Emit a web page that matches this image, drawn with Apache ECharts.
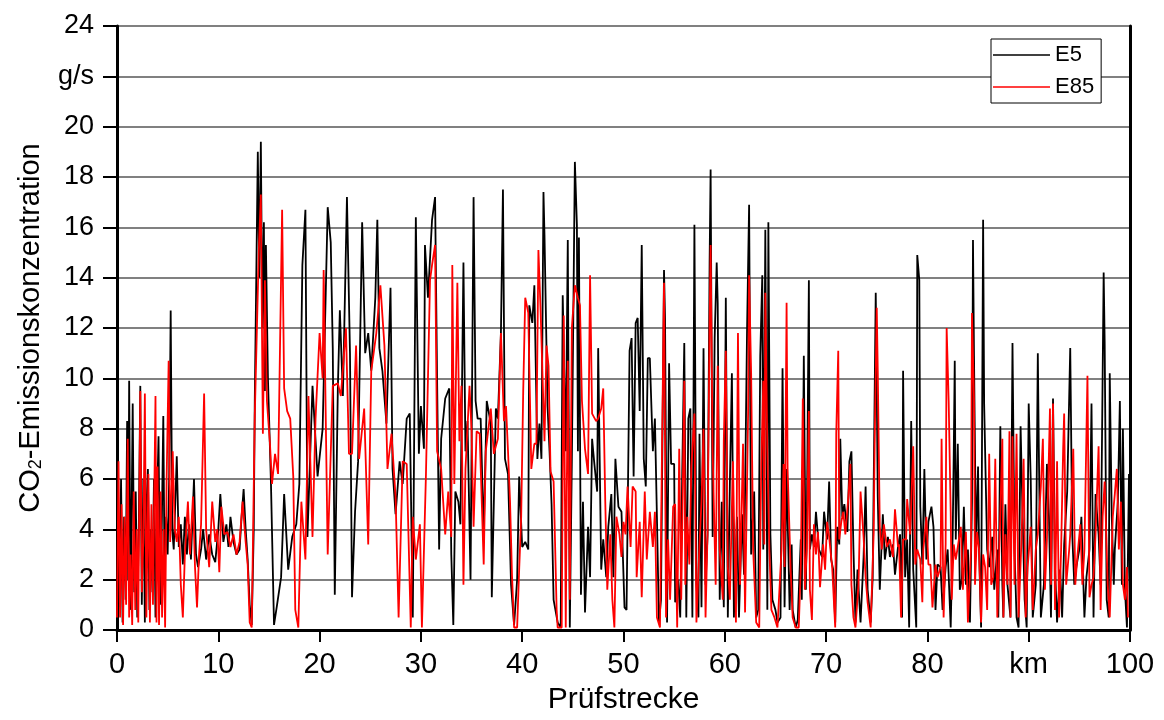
<!DOCTYPE html>
<html>
<head>
<meta charset="utf-8">
<script src="https://cdn.jsdelivr.net/npm/echarts@6/dist/echarts.min.js"></script>
<style>
html,body{margin:0;padding:0;background:#fff;}
#chart{width:1164px;height:720px;}
</style>
</head>
<body>
<div id="chart"></div>
<script>
const xTickLabels = ['0','10','20','30','40','50','60','70','80','km','100'];
const yTickLabels = ['0','2','4','6','8','10','12','14','16','18','20','g/s','24'];
const seriesNames = ['E5','E85'];

const e5Km = [0,0.1,0.25,0.4,0.55,0.7,0.85,1.0,1.1,1.2,1.35,1.55,1.7,1.85,2.0,2.15,2.3,2.45,2.6,2.75,2.9,3.05,3.2,3.35,3.5,3.65,3.8,3.95,4.1,4.25,4.4,4.57,4.7,4.85,5.0,5.15,5.3,5.45,5.6,5.75,5.9,6.1,6.3,6.5,6.7,6.9,7.1,7.3,7.6,7.8,8.0,8.3,8.5,8.8,9.1,9.4,9.7,10.0,10.2,10.5,10.8,11.0,11.2,11.5,11.8,12.1,12.3,12.5,12.7,12.9,13.1,13.3,13.5,13.6,13.9,14.05,14.2,14.35,14.5,14.6,14.7,14.9,15.2,15.5,15.8,16.2,16.5,16.9,17.3,17.7,18.0,18.3,18.6,18.8,19.3,19.8,20.3,20.8,21.1,21.3,21.5,21.8,22.0,22.3,22.7,23.0,23.2,23.5,23.8,24.2,24.5,24.8,25.1,25.5,25.7,25.9,26.2,26.6,27.0,27.2,27.5,27.9,28.2,28.6,28.9,29.2,29.5,29.8,30.0,30.3,30.4,30.7,31.1,31.4,31.6,31.8,32.0,32.4,32.8,33.0,33.2,33.4,33.7,33.9,34.2,34.4,34.6,34.9,35.2,35.4,35.6,35.9,36.2,36.5,36.9,37.0,37.4,37.6,37.9,38.1,38.3,38.6,38.9,39.2,39.5,39.7,40.0,40.3,40.6,40.7,41.0,41.2,41.5,41.7,41.9,42.1,42.2,42.5,42.7,42.9,43.1,43.5,43.8,44.0,44.3,44.5,44.7,44.9,45.2,45.4,45.5,45.6,45.8,46.0,46.2,46.5,46.7,46.9,47.1,47.4,47.5,47.8,48.0,48.3,48.5,48.8,49.0,49.2,49.5,49.8,50.1,50.3,50.6,50.8,51.0,51.2,51.4,51.6,51.8,52.0,52.2,52.4,52.6,52.9,53.1,53.3,53.5,53.7,54.0,54.1,54.3,54.5,54.7,55.0,55.1,55.4,55.6,55.8,56.0,56.2,56.4,56.6,56.8,57.0,57.2,57.4,57.5,57.7,57.9,58.1,58.3,58.5,58.6,58.8,59.0,59.2,59.3,59.5,59.7,59.9,60.1,60.3,60.5,60.7,60.9,61.2,61.4,61.7,61.9,62.2,62.4,62.6,62.9,63.1,63.3,63.5,63.7,63.8,64.0,64.2,64.3,64.5,64.7,65.0,65.2,65.5,65.7,65.9,66.1,66.4,66.6,66.7,67.0,67.2,67.5,67.6,67.8,68.0,68.1,68.3,68.4,68.6,68.8,69.0,69.3,69.6,69.8,70.1,70.3,70.5,70.7,70.9,71.1,71.3,71.4,71.6,71.8,72.1,72.3,72.5,72.7,72.9,73.1,73.4,73.7,73.9,74.1,74.4,74.6,74.9,75.0,75.1,75.3,75.6,75.8,76.1,76.3,76.6,76.8,77.1,77.3,77.5,77.6,77.8,78.0,78.2,78.4,78.6,78.9,79.0,79.2,79.3,79.5,79.7,79.9,80.1,80.4,80.6,80.8,81.0,81.3,81.5,81.8,82.0,82.3,82.5,82.6,82.7,82.8,83.0,83.2,83.4,83.6,83.8,84.0,84.2,84.4,84.5,84.6,84.8,85.0,85.1,85.3,85.5,85.6,85.9,86.1,86.4,86.6,86.9,87.0,87.2,87.4,87.5,87.7,87.9,88.2,88.4,88.6,88.8,89.0,89.2,89.4,89.6,89.8,90.0,90.2,90.4,90.7,90.9,91.0,91.2,91.5,91.8,92.0,92.2,92.4,92.6,92.8,93.1,93.3,93.5,93.8,94.1,94.3,94.5,94.7,95.0,95.2,95.5,95.7,96.0,96.2,96.4,96.6,96.9,97.1,97.2,97.4,97.5,97.7,97.9,98.0,98.2,98.4,98.5,98.8,99.0,99.2,99.3,99.5,99.7,99.9,100];
const e5Val = [0.3,5.0,1.0,6.0,0.3,4.5,1.2,8.3,2.0,9.9,0.8,9.0,1.5,5.5,0.5,4.0,9.7,1.0,6.0,0.3,4.8,6.4,0.8,4.0,1.5,6.0,0.5,5.0,7.7,1.0,3.5,8.5,2.0,4.5,3.0,6.0,12.7,4.0,3.2,5.0,6.9,3.3,4.2,2.6,4.5,3.0,4.2,2.8,6.0,3.0,2.5,3.2,4.0,2.8,3.8,3.0,2.7,4.0,5.4,3.5,4.2,3.3,4.5,3.5,3.0,3.2,4.5,5.6,4.0,2.8,1.0,0.2,4.0,9.1,19.0,14.0,19.4,12.0,16.2,9.5,15.3,10.0,5.8,0.2,1.0,2.1,5.4,2.4,3.7,4.2,5.8,14.5,16.7,3.7,9.7,6.1,8.0,16.8,15.4,11.2,1.4,9.6,12.7,9.3,17.2,11.0,1.3,4.7,6.7,16.2,11.0,11.8,10.3,13.2,16.3,11.2,10.3,8.2,13.6,6.4,4.6,6.7,5.8,8.4,8.6,0.5,16.4,7.0,8.9,7.2,15.3,13.2,16.3,17.2,9.9,3.2,7.6,9.2,9.6,3.0,0.2,5.5,5.1,4.2,14.6,7.1,8.3,2.0,17.2,9.1,8.4,8.4,3.8,9.1,8.2,1.3,8.8,8.4,11.8,17.5,6.8,6.2,1.8,0.2,2.0,6.1,3.3,3.5,3.2,12.9,12.2,13.7,6.8,8.2,6.8,17.4,15.7,8.9,7.1,5.0,1.2,0.3,0.1,13.3,7.1,15.5,0.1,6.7,18.6,16.1,7.1,15.6,1.4,5.1,0.7,4.1,2.1,7.6,6.7,5.5,11.2,2.4,3.6,2.1,4.1,5.4,2.1,6.8,4.9,4.7,0.9,0.8,11.1,11.6,6.1,12.2,12.4,8.7,15.3,6.8,5.7,10.8,10.8,7.1,8.4,4.5,0.3,1.2,14.3,12.4,0.3,10.6,6.6,6.6,1.1,2.0,0.5,6.3,11.4,0.5,8.4,8.8,0.5,16.1,1.8,0.5,7.8,0.9,11.2,1.8,3.8,14.6,18.3,3.7,11.6,14.6,13.0,1.2,5.1,0.9,13.2,0.5,5.8,10.2,0.5,4.5,0.5,4.6,2.2,12.0,16.9,3.0,5.5,0.5,0.8,10.9,14.1,3.2,15.9,0.8,16.2,3.8,1.2,0.8,0.3,0.5,10.4,0.9,6.4,0.8,3.4,0.8,0.1,0.4,3.6,1.2,10.9,1.6,4.3,13.9,3.2,3.8,3.3,4.7,3.2,2.9,4.7,3.6,5.9,2.8,2.4,0.3,4.1,3.4,7.6,4.5,5.0,3.9,6.7,7.1,3.2,0.3,2.4,0.3,2.9,5.7,1.6,0.3,2.1,13.4,9.7,5.3,1.6,4.6,2.8,3.7,2.9,3.4,2.2,3.3,3.8,0.5,10.3,2.1,3.6,0.1,8.3,2.4,0.1,14.9,13.9,4.9,2.6,6.4,2.8,4.3,4.9,4.1,0.8,2.6,2.5,0.8,2.5,3.2,0.1,3.9,7.0,10.7,3.6,7.4,1.6,2.0,4.9,1.8,3.2,0.3,5.1,15.5,10.9,3.2,6.5,3.2,0.1,16.3,9.0,3.2,2.5,3.7,1.6,3.2,0.5,8.1,1.8,0.5,5.0,1.8,0.5,11.4,3.2,0.5,0.1,8.1,4.5,1.2,0.1,9.0,6.0,0.5,1.8,11.0,7.2,0.5,1.8,6.6,4.5,0.5,9.2,2.5,0.3,2.4,0.5,3.4,5.5,11.2,3.8,1.8,2.5,3.2,4.5,0.5,2.1,3.2,9.0,0.5,5.4,3.8,1.8,6.1,14.2,11.4,1.2,0.5,10.2,4.5,1.8,3.2,5.1,9.1,1.8,8.0,1.6,0.1,6.2,1.0];

const e85Km = [0,0.15,0.3,0.45,0.6,0.75,0.9,1.06,1.2,1.35,1.5,1.65,1.8,1.95,2.1,2.3,2.45,2.6,2.75,2.9,3.1,3.25,3.4,3.55,3.8,3.9,4.0,4.15,4.3,4.45,4.6,4.75,4.9,5.1,5.25,5.4,5.5,5.7,5.9,6.1,6.3,6.5,6.7,7.0,7.2,7.5,7.7,7.9,8.1,8.3,8.6,8.8,9.1,9.4,9.7,9.9,10.1,10.3,10.6,10.9,11.2,11.5,11.8,12.1,12.4,12.7,12.9,13.1,13.3,13.6,14.0,14.2,14.4,14.6,14.8,15.1,15.3,15.6,15.9,16.3,16.5,16.8,17.1,17.4,17.6,17.9,18.2,18.6,18.9,19.3,19.6,20.0,20.3,20.4,20.8,21.3,21.8,22.1,22.6,22.9,23.2,23.6,23.9,24.4,24.8,25.1,25.6,26.0,26.4,26.7,27.1,27.5,27.8,28.2,28.6,29.0,29.2,29.5,29.9,30.1,30.5,30.9,31.1,31.4,31.6,32.0,32.4,32.7,33.0,33.1,33.3,33.6,33.8,34.0,34.2,34.4,34.8,35.0,35.2,35.5,35.8,36.2,36.4,36.9,37.2,37.6,37.9,38.2,38.4,38.6,38.8,39.0,39.2,39.5,39.7,39.9,40.1,40.3,40.6,40.9,41.2,41.4,41.6,41.8,42.2,42.4,42.6,42.8,43.1,43.4,43.5,43.9,44.1,44.3,44.5,44.7,44.9,45.2,45.5,45.7,45.9,46.2,46.5,46.7,46.9,47.3,47.5,47.8,48.0,48.2,48.4,48.7,48.9,49.1,49.3,49.6,49.8,50.0,50.2,50.4,50.7,50.9,51.2,51.3,51.6,51.8,52.1,52.3,52.6,52.9,53.1,53.3,53.6,53.8,54.0,54.2,54.4,54.6,54.9,55.1,55.3,55.5,55.7,56.0,56.1,56.3,56.5,56.7,57.0,57.2,57.5,57.7,57.9,58.1,58.3,58.5,58.6,58.8,59.1,59.3,59.5,59.8,59.9,60.1,60.3,60.5,60.8,61.1,61.3,61.5,61.8,62.0,62.3,62.4,62.6,62.8,63.1,63.4,63.6,63.8,63.9,64.0,64.2,64.4,64.6,64.9,65.2,65.6,65.8,65.9,66.1,66.2,66.5,66.7,67.0,67.3,67.5,67.7,67.9,68.1,68.3,68.4,68.6,68.8,69.0,69.2,69.4,69.7,69.9,70.1,70.3,70.6,70.9,71.0,71.2,71.3,71.5,71.7,71.9,72.2,72.4,72.5,72.7,72.9,73.2,73.4,73.7,73.9,74.1,74.4,74.7,74.8,75.0,75.1,75.3,75.5,75.7,76.0,76.3,76.6,76.8,77.1,77.2,77.4,77.6,77.9,78.0,78.3,78.6,78.8,79.0,79.3,79.5,79.6,79.9,80.1,80.3,80.5,80.8,81.0,81.3,81.4,81.6,81.8,81.9,82.1,82.3,82.4,82.6,82.8,83.0,83.3,83.5,83.8,84.0,84.3,84.4,84.6,84.7,84.9,85.1,85.3,85.5,85.7,85.9,86.1,86.3,86.5,86.7,86.9,87.1,87.4,87.5,87.7,87.9,88.1,88.2,88.4,88.6,88.8,89.0,89.3,89.5,89.7,89.9,90.2,90.4,90.7,90.9,91.2,91.4,91.6,91.8,92.1,92.2,92.4,92.6,92.8,93.0,93.2,93.4,93.5,93.7,94.0,94.1,94.4,94.6,94.8,95.1,95.3,95.5,95.8,96.0,96.2,96.4,96.6,96.9,97.1,97.3,97.5,97.8,98.0,98.3,98.5,98.7,98.9,99.1,99.3,99.5,99.7,99.8];
const e85Val = [0.5,6.7,0.5,5.0,0.2,4.5,1.0,7.6,0.5,3.0,0.2,5.5,0.8,4.0,0.3,9.5,1.5,3.5,9.4,0.5,6.2,0.3,5.0,1.0,9.3,0.3,6.5,0.2,5.5,0.5,4.0,0.1,6.0,10.7,3.5,5.5,7.1,4.0,3.5,4.5,1.8,0.5,3.0,5.1,3.0,5.3,2.5,0.9,3.0,4.2,9.4,4.0,2.5,5.1,3.5,4.0,2.3,4.9,3.8,3.9,3.3,3.8,3.0,3.5,5.1,3.5,2.6,0.3,0.1,8.5,15.1,17.3,7.8,13.9,9.1,7.4,5.8,7.0,6.2,16.7,9.6,8.7,8.4,6.1,0.8,0.1,5.1,2.8,9.3,3.7,8.4,11.8,10.0,14.3,3.0,9.7,9.8,9.3,12.0,7.0,7.0,11.3,6.8,8.8,3.4,10.3,11.8,13.7,11.3,6.4,7.8,5.3,0.5,6.7,6.6,0.1,4.5,2.8,4.2,0.1,6.2,13.9,14.5,15.3,7.1,6.4,3.8,5.5,3.7,14.5,5.8,13.8,7.5,9.7,1.8,6.4,9.7,7.9,4.1,7.9,7.8,2.6,7.1,8.8,7.0,7.6,11.8,8.3,8.9,7.1,5.1,2.1,0.1,0.1,2.4,4.5,9.5,13.2,12.6,6.4,7.4,7.4,15.1,12.9,7.5,11.3,10.5,6.3,5.9,0.8,0.1,0.1,12.5,0.1,10.7,1.2,12.0,13.7,13.2,12.9,9.1,7.2,6.2,14.1,8.6,8.3,8.4,8.8,9.6,5.1,1.6,3.8,1.2,0.1,4.5,3.8,2.9,4.3,3.8,5.7,3.3,5.7,5.5,2.1,4.3,1.3,5.5,2.8,4.7,3.3,4.7,0.5,0.1,7.1,13.8,0.5,3.6,1.2,4.9,5.0,0.1,7.2,1.2,9.9,1.8,4.5,2.6,6.5,8.6,0.3,3.4,5.1,8.0,0.5,3.9,12.1,15.3,7.1,1.8,10.5,3.2,1.2,7.5,11.1,2.5,1.2,6.7,0.3,11.8,1.8,7.4,0.7,8.6,14.1,10.2,3.2,0.3,0.1,6.6,9.9,3.4,13.4,7.2,3.2,0.8,0.5,0.1,3.2,6.6,2.5,13.0,6.4,2.4,0.5,0.1,0.1,2.5,9.2,1.6,3.2,8.7,1.6,0.4,4.2,3.0,3.9,1.7,3.4,2.4,4.3,3.7,2.5,0.1,7.8,11.1,3.6,4.3,4.7,3.8,5.3,6.6,1.8,0.5,0.1,1.8,5.5,3.7,2.1,1.1,0.1,3.9,7.6,12.8,10.3,4.1,3.2,4.2,3.3,3.6,2.9,4.8,3.3,3.4,0.5,3.6,3.6,5.2,3.8,7.3,2.6,3.2,2.8,1.1,3.2,4.5,2.6,2.6,0.9,2.6,2.1,2.5,7.6,0.5,3.4,12.0,9.1,4.7,1.2,3.4,2.8,3.3,4.1,1.6,3.9,0.3,3.2,12.6,9.2,1.8,3.9,3.2,0.3,3.0,2.5,0.8,7.0,1.8,2.1,6.8,0.5,3.2,7.6,0.5,3.8,1.8,7.9,0.5,7.7,1.8,7.8,0.5,3.7,6.8,0.5,2.5,4.1,0.8,3.2,3.8,5.7,7.6,1.6,3.6,8.8,1.8,9.0,0.8,6.7,0.5,3.2,7.2,8.6,1.8,3.2,3.8,7.2,1.8,2.9,4.2,1.8,3.2,10.1,1.3,1.8,2.1,3.8,7.3,0.8,4.5,5.9,1.8,0.5,4.5,5.4,6.4,3.2,5.1,1.8,1.2,2.5,0.5];

const FONT = 'Liberation Sans, Arial, sans-serif';
const pairs = (xs, ys) => xs.map((x, i) => [x, ys[i]]);

const chart = echarts.init(document.getElementById('chart'), null, {renderer: 'canvas'});
chart.setOption({
  animation: false,
  backgroundColor: '#ffffff',
  grid: {left: 117, right: 34, top: 26, bottom: 87, containLabel: false},
  legend: {
    orient: 'vertical',
    left: 991, top: 39,
    data: seriesNames,
    icon: 'rect',
    itemWidth: 57, itemHeight: 1.5,
    itemGap: 10,
    padding: [5, 7, 5, 2],
    backgroundColor: '#ffffff',
    borderColor: '#000000', borderWidth: 1,
    textStyle: {fontFamily: FONT, fontSize: 22, color: '#000', padding: [0,0,0,0]}
  },
  xAxis: {
    type: 'value', min: 0, max: 100, interval: 10,
    name: 'Prüfstrecke', nameLocation: 'middle', nameGap: 55,
    nameTextStyle: {fontFamily: FONT, fontSize: 30, color: '#000'},
    axisLine: {show: true, onZero: false, lineStyle: {color: '#000', width: 3}},
    axisTick: {show: true, inside: false, length: 12, lineStyle: {color: '#000', width: 2}},
    axisLabel: {fontFamily: FONT, fontSize: 29, color: '#000', margin: 20,
      formatter: v => xTickLabels[Math.round(v / 10)]},
    splitLine: {show: false}
  },
  yAxis: [{
    type: 'value', min: 0, max: 24, interval: 2,
    name: '{a|CO}{s|2}{a|-Emissionskonzentration}',
    nameLocation: 'middle', nameGap: 72, nameRotate: 90,
    nameTextStyle: {
      fontFamily: FONT, fontSize: 29, color: '#000',
      rich: {
        a: {fontFamily: FONT, fontSize: 29, color: '#000', verticalAlign: 'bottom', lineHeight: 32},
        s: {fontFamily: FONT, fontSize: 18, color: '#000', verticalAlign: 'bottom', lineHeight: 20, padding: [11, 0, 0, 0]}
      }
    },
    axisLine: {show: true, onZero: false, lineStyle: {color: '#000', width: 3}},
    axisTick: {show: true, inside: false, length: 14, lineStyle: {color: '#000', width: 2}},
    axisLabel: {fontFamily: FONT, fontSize: 27, color: '#000', margin: 23,
      formatter: v => yTickLabels[Math.round(v / 2)]},
    splitLine: {show: true, lineStyle: {color: '#808080', width: 2}}
  }, {
    type: 'value', min: 0, max: 24, interval: 2, position: 'right',
    axisLine: {show: true, onZero: false, lineStyle: {color: '#000', width: 3}},
    axisTick: {show: false}, axisLabel: {show: false}, splitLine: {show: false}
  }],
  series: [
    {name: seriesNames[0], type: 'line', data: pairs(e5Km, e5Val), showSymbol: false,
      color: '#000000', lineStyle: {color: '#000000', width: 1.8}, z: 2},
    {name: seriesNames[1], type: 'line', data: pairs(e85Km, e85Val), showSymbol: false,
      color: '#ff0000', lineStyle: {color: '#ff0000', width: 1.8}, z: 3}
  ]
});
</script>
</body>
</html>
